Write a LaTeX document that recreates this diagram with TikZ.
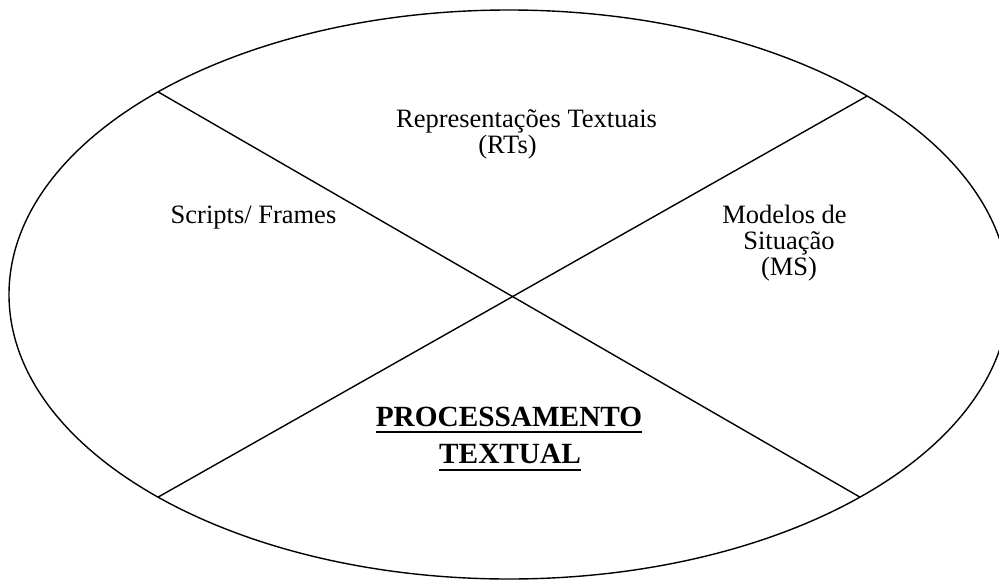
\documentclass[tikz,border=0pt]{standalone}
\usepackage{fontspec}
\setmainfont{Liberation Serif}
\usetikzlibrary{shapes.geometric}
\tikzset{
  outline/.style={draw=black, line width=1.4pt},
  divider/.style={draw=black, line width=1.4pt},
  lbl/.style={anchor=base, inner sep=0pt, font=\fontsize{26.5}{30}\selectfont},
  title/.style={anchor=base, inner sep=0pt, font=\fontsize{29.3}{33}\selectfont\bfseries},
  uline/.style={draw=black, line width=2.3pt}
}
\begin{document}
\begin{tikzpicture}[x=1pt, y=-1pt]
  \useasboundingbox (0,0) rectangle (999,581);
  \clip (0,0) rectangle (999,581);

  % the ring that holds the four sectors
  \node[ellipse, outline, minimum width=1000pt, minimum height=569pt,
        inner sep=0pt, outer sep=0pt] (ring) at (509,294.5) {};

  % the two crossing dividers
  \coordinate (ul) at (ring.150.4);
  \coordinate (ur) at (ring.29.5);
  \coordinate (ll) at (ring.210);
  \coordinate (lr) at (ring.330);
  \draw[divider] (ul) -- (lr);
  \draw[divider] (ur) -- (ll);

  % sector labels
  \node[lbl] (rt1) at (526.5,127) {Representações Textuais};
  \node[lbl] (rt2) at (507.5,153) {(RTs)};
  \node[lbl] (sf)  at (253.5,223) {Scripts/ Frames};
  \node[lbl] (ms1) at (784.5,223) {Modelos de};
  \node[lbl] (ms2) at (789,249) {Situação};
  \node[lbl] (ms3) at (789,275) {(MS)};

  % centre title, underlined
  \node[title] (pt1) at (509,426.5) {PROCESSAMENTO};
  \node[title] (pt2) at (510,463.5) {TEXTUAL};
  \draw[uline] ([yshift=-5.5pt]pt1.base west) -- ([yshift=-5.5pt]pt1.base east);
  \draw[uline] ([yshift=-6.5pt]pt2.base west) -- ([yshift=-6.5pt]pt2.base east);
\end{tikzpicture}
\end{document}
